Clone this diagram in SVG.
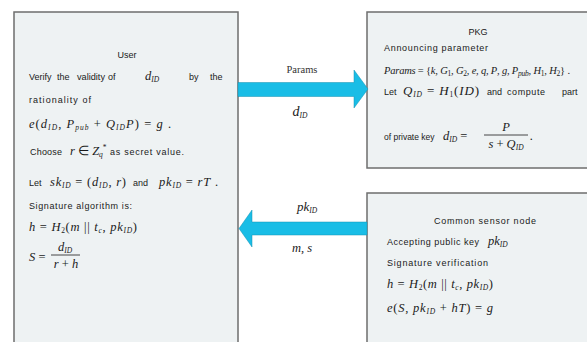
<svg xmlns="http://www.w3.org/2000/svg" width="587" height="342" viewBox="0 0 587 342">
<style>
.box{fill:#eef2f3;stroke:#6e6e6e;stroke-width:1.5}
.arr{fill:#19bde6;stroke:#1590b0;stroke-width:0.5}
.t{font-family:"Liberation Sans",Arial,sans-serif;font-size:9px;fill:#1a1a1a}
.m{font-family:"Liberation Serif","Times New Roman",serif;font-style:italic;font-size:12.5px;fill:#1a1a1a}
.r{font-style:normal}
.s{font-size:7.5px}
.lbl{font-family:"Liberation Serif","Times New Roman",serif;font-size:10.5px;fill:#333}
</style>
<rect width="587" height="342" fill="#ffffff"/>
<g id="user">
<rect class="box" x="14" y="12" width="224" height="345"/>
<text class="t" x="127" y="58" text-anchor="middle">User</text>
<text class="t" x="29" y="80">Verify</text>
<text class="t" x="57" y="80">the</text>
<text class="t" x="77" y="80" textLength="28" lengthAdjust="spacingAndGlyphs">validity</text>
<text class="t" x="108" y="80">of</text>
<text class="m" x="145" y="80">d<tspan class="s" dy="2">ID</tspan></text>
<text class="t" x="189" y="80">by</text>
<text class="t" x="210" y="80">the</text>
<text class="t" x="29" y="103" textLength="62" lengthAdjust="spacing">rationality of</text>
<text class="m" x="29" y="128" textLength="142" lengthAdjust="spacing">e<tspan class="r">(</tspan>d<tspan class="s" dy="2">ID</tspan><tspan dy="-2" class="r">, </tspan>P<tspan class="s" dy="2">pub</tspan><tspan dy="-2" class="r"> + </tspan>Q<tspan class="s" dy="2">ID</tspan><tspan dy="-2">P</tspan><tspan class="r">) = </tspan>g<tspan class="r"> .</tspan></text>
<text class="t" x="30" y="155" textLength="32" lengthAdjust="spacing">Choose</text>
<text class="m" x="70" y="155">r<tspan class="r"> ∈ </tspan>Z<tspan class="s" dy="2">q</tspan><tspan class="s r" dy="-7">*</tspan></text>
<text class="t" x="110" y="155" textLength="74" lengthAdjust="spacing">as secret value.</text>
<text class="t" x="29" y="186">Let</text>
<text class="m" x="50" y="186" textLength="76" lengthAdjust="spacing">sk<tspan class="s" dy="2">ID</tspan><tspan dy="-2" class="r"> = (</tspan>d<tspan class="s" dy="2">ID</tspan><tspan dy="-2" class="r">, </tspan>r<tspan class="r">)</tspan></text>
<text class="t" x="133" y="186">and</text>
<text class="m" x="159" y="186" textLength="59" lengthAdjust="spacing">pk<tspan class="s" dy="2">ID</tspan><tspan dy="-2" class="r"> = </tspan>rT<tspan class="r"> .</tspan></text>
<text class="t" x="29" y="209" textLength="103" lengthAdjust="spacing">Signature algorithm is:</text>
<text class="m" x="29" y="231" textLength="108" lengthAdjust="spacing">h<tspan class="r"> = </tspan>H<tspan class="s r" dy="2">2</tspan><tspan dy="-2" class="r">(</tspan>m<tspan class="r"> || </tspan>t<tspan class="s" dy="2">c</tspan><tspan dy="-2" class="r">, </tspan>pk<tspan class="s" dy="2">ID</tspan><tspan dy="-2" class="r">)</tspan></text>
<text class="m" x="29" y="261">S<tspan class="r"> =</tspan></text>
<text class="m" x="65" y="251" text-anchor="middle">d<tspan class="s" dy="2">ID</tspan></text>
<line x1="51" y1="255" x2="80" y2="255" stroke="#1a1a1a" stroke-width="0.8"/>
<text class="m" x="66" y="268" text-anchor="middle">r<tspan class="r"> + </tspan>h</text>
</g>
<g id="pkg">
<rect class="box" x="367" y="12" width="230" height="156"/>
<text class="t" x="478" y="35" text-anchor="middle">PKG</text>
<text class="t" x="384" y="51" textLength="104" lengthAdjust="spacing">Announcing parameter</text>
<text class="m" x="384" y="74" style="font-size:10.5px" textLength="186" lengthAdjust="spacing">Params<tspan class="r"> = {</tspan>k<tspan class="r">, </tspan>G<tspan class="s r" dy="2">1</tspan><tspan dy="-2" class="r">, </tspan>G<tspan class="s r" dy="2">2</tspan><tspan dy="-2" class="r">, </tspan>e<tspan class="r">, </tspan>q<tspan class="r">, </tspan>P<tspan class="r">, </tspan>g<tspan class="r">, </tspan>P<tspan class="s" dy="2">pub</tspan><tspan dy="-2" class="r">, </tspan>H<tspan class="s r" dy="2">1</tspan><tspan dy="-2" class="r">, </tspan>H<tspan class="s r" dy="2">2</tspan><tspan dy="-2" class="r">} .</tspan></text>
<text class="t" x="384" y="95">Let</text>
<text class="m" x="403" y="95" style="font-size:13px" textLength="76" lengthAdjust="spacing">Q<tspan class="s" dy="2">ID</tspan><tspan dy="-2" class="r"> = </tspan>H<tspan class="s r" dy="2">1</tspan><tspan dy="-2" class="r">(</tspan>ID<tspan class="r">)</tspan></text>
<text class="t" x="487" y="95">and</text>
<text class="t" x="507" y="95" textLength="38" lengthAdjust="spacing">compute</text>
<text class="t" x="562" y="95">part</text>
<text class="t" x="384" y="140" style="font-size:8.5px">of private key</text>
<text class="m" x="443" y="140">d<tspan class="s" dy="2">ID</tspan><tspan dy="-2" class="r"> =</tspan></text>
<text class="m" x="506" y="131" text-anchor="middle">P</text>
<line x1="484" y1="135" x2="528" y2="135" stroke="#1a1a1a" stroke-width="0.8"/>
<text class="m" x="506" y="148" text-anchor="middle">s<tspan class="r"> + </tspan>Q<tspan class="s" dy="2">ID</tspan></text>
<text class="m" x="530" y="140">.</text>
</g>
<g id="sensor">
<rect class="box" x="367" y="193" width="230" height="160"/>
<text class="t" x="434" y="224" textLength="102" lengthAdjust="spacing">Common sensor node</text>
<text class="t" x="387" y="245" textLength="92" lengthAdjust="spacing">Accepting public key</text>
<text class="m" x="488" y="245">pk<tspan class="s" dy="2">ID</tspan></text>
<text class="t" x="387" y="266" textLength="101" lengthAdjust="spacing">Signature verification</text>
<text class="m" x="387" y="288" textLength="106" lengthAdjust="spacing">h<tspan class="r"> = </tspan>H<tspan class="s r" dy="2">2</tspan><tspan dy="-2" class="r">(</tspan>m<tspan class="r"> || </tspan>t<tspan class="s" dy="2">c</tspan><tspan dy="-2" class="r">, </tspan>pk<tspan class="s" dy="2">ID</tspan><tspan dy="-2" class="r">)</tspan></text>
<text class="m" x="387" y="312" textLength="106" lengthAdjust="spacing">e<tspan class="r">(</tspan>S<tspan class="r">, </tspan>pk<tspan class="s" dy="2">ID</tspan><tspan dy="-2" class="r"> + </tspan>hT<tspan class="r">) = </tspan>g</text>
</g>
<g id="connectors">
<polygon class="arr" points="238,82.5 354,82.5 354,70 368,89 354,108 354,96.5 238,96.5"/>
<text class="lbl" x="302" y="73" text-anchor="middle">Params</text>
<text class="m" x="300" y="116" text-anchor="middle" style="font-size:14px">d<tspan class="s" dy="2">ID</tspan></text>
<polygon class="arr" points="239,228.5 252,210 252,222 367,222 367,235 252,235 252,247"/>
<text class="m" x="307" y="211" text-anchor="middle" style="font-size:13px">pk<tspan class="s" dy="2">ID</tspan></text>
<text class="m" x="302" y="252" text-anchor="middle">m<tspan class="r">, </tspan>s</text>
</g>
</svg>
